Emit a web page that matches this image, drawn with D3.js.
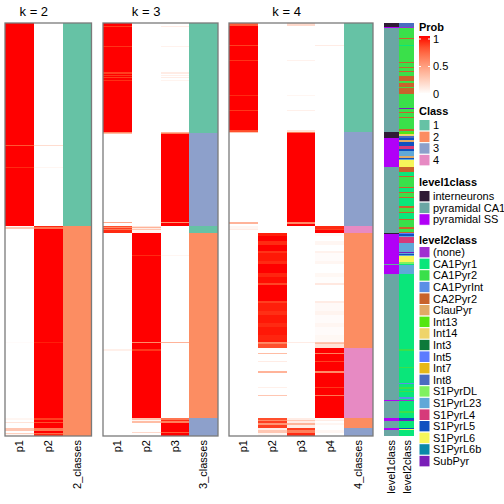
<!DOCTYPE html>
<html><head><meta charset="utf-8">
<script src="https://cdn.jsdelivr.net/npm/d3@7"></script>
<style>body{margin:0;background:#fff}text{font-family:"Liberation Sans",Arial,Helvetica,sans-serif;fill:#000}</style>
</head><body><svg id="c" width="504" height="504"></svg>
<script>
// ---------------- data ----------------
const N = 413; // number of samples (rows)
const classLevels = ["1","2","3","4"];
const classColors = ["#66C2A5","#FC8D62","#8DA0CB","#E78AC3"];
const probTicks = [0, 0.5, 1];
const level1Names = ["interneurons","pyramidal CA1","pyramidal SS"];
const level1Colors = ["#2F1B36","#6AA6A4","#B100F7"];
const level2Names = ["(none)","CA1Pyr1","CA1Pyr2","CA1PyrInt","CA2Pyr2","ClauPyr","Int13","Int14","Int3","Int5","Int7","Int8","S1PyrDL","S1PyrL23","S1PyrL4","S1PyrL5","S1PyrL6","S1PyrL6b","SubPyr"];
const level2Colors = ["#A02FD0","#0AE67A","#3AE04A","#5B8FE6","#C8632C","#E0AA66","#55E610","#EFD46A","#0C7A3A","#5C7BFF","#E6B81A","#4A6CC0","#80F060","#60A8D8","#D63A7A","#1050C0","#F6F65A","#0A88A8","#7A1EB8"];
const panelTitles = ["k = 2","k = 3","k = 4"];

// segments: [startRow, endRow, class, p1, p2, ...]
const k2Segments = [
 [0,122,1,1,0],[122,123,1,.82,.18],[123,144,1,1,0],[144,145,1,.95,.05],[145,203,1,1,0],
 [203,204,2,.05,.95],[204,206,2,.3,.7],[206,319,2,0,1],[319,320,2,.02,.97],[320,395,2,0,1],
 [395,397,2,.05,.9],[397,399,2,0,1],[399,400,2,.15,.85],[400,405,2,0,1],[405,408,2,.3,.7],
 [408,410,2,0,1],[410,411,2,.25,.75],[411,413,2,.05,.95]
];
const k3Segments = [
 [0,3,1,1,0,0],[3,4,1,.9,0,.1],[4,23,1,1,0,0],[23,24,1,.93,0,.07],[24,49,1,1,0,0],
 [49,51,1,.9,0,.1],[51,52,1,1,0,0],[52,53,1,.92,0,.08],[53,54,1,1,0,0],[54,55,1,.9,0,.1],
 [55,57,1,1,0,0],[57,58,1,.94,0,.06],[58,109,1,1,0,0],[109,110,1,.6,0,.4],[110,111,3,.35,0,.65],
 [111,199,3,0,0,1],[199,200,3,.45,0,.55],[200,203,3,0,0,1],
 [203,204,1,.85,.15,0],[204,205,1,.6,.4,0],[205,206,1,.9,.1,0],[206,207,1,.7,.3,0],[207,210,1,.95,.05,0],
 [210,232,2,0,1,0],[232,233,2,0,.95,.05],[233,319,2,0,1,0],[319,320,2,0,.6,.4],[320,326,2,0,1,0],
 [326,328,2,.08,.92,0],[328,395,2,0,1,0],
 [395,397,3,0,.3,.7],[397,398,3,0,.05,.95],[398,400,3,0,.35,.65],[400,409,3,0,0,1],[409,410,3,0,.2,.8],[410,413,3,0,0,1]
];
const k4Segments = [
 [0,3,1,.8,0,.2,0],[3,22,1,1,0,0,0],[22,23,1,.9,0,0,.1],[23,37,1,1,0,0,0],[37,38,1,.93,0,.07,0],
 [38,72,1,1,0,0,0],[72,73,1,.95,0,.05,0],[73,87,1,1,0,0,0],[87,88,1,.92,0,.08,0],[88,107,1,1,0,0,0],
 [107,109,1,.85,0,.15,0],[109,110,3,.3,0,.7,0],[110,199,3,0,0,1,0],[199,201,3,.4,0,.6,0],[201,203,3,0,0,1,0],
 [203,206,4,.05,0,0,.95],[206,207,4,.1,0,0,.9],[207,210,4,0,0,0,1],
 [210,213,2,0,.97,0,.03],[213,218,2,0,1,0,0],[218,222,2,0,.95,0,.05],[222,228,2,0,1,0,0],[228,230,2,0,.93,0,.07],
 [230,238,2,0,.98,0,.02],[238,241,2,0,.95,0,.05],[241,250,2,0,1,0,0],[250,254,2,0,.96,0,.04],[254,260,2,0,.99,0,.01],
 [260,262,2,0,.88,0,.12],[262,278,2,0,1,0,0],[278,280,2,0,.9,0,.1],[280,288,2,0,.97,0,.03],[288,292,2,0,.94,0,.06],
 [292,300,2,0,.98,0,.02],[300,304,2,0,.95,0,.05],[304,312,2,0,.98,0,.02],[312,317,2,0,.96,0,.04],[317,319,2,0,.97,0,.03],
 [319,320,2,0,.6,.1,.3],[320,321,2,0,.65,0,.35],[321,325,2,0,.85,0,.15],
 [325,330,4,0,0,0,1],[330,331,4,0,.35,0,.65],[331,338,4,0,0,0,1],[338,339,4,0,.1,0,.9],[339,348,4,0,0,0,1],
 [348,350,4,0,.4,0,.6],[350,364,4,0,0,0,1],[364,365,4,0,.08,0,.92],[365,372,4,0,0,0,1],[372,373,4,0,.3,0,.7],[373,395,4,0,0,0,1],
 [395,397,2,0,.85,.1,.05],[397,398,2,0,.6,.3,.1],[398,400,2,0,.9,.1,0],[400,402,2,0,.55,.4,.05],[402,405,2,0,.9,.1,0],
 [405,407,3,0,.1,.9,0],[407,410,3,0,.3,.65,.05],[410,413,3,0,.05,.95,0]
];
const level1Segments = [
 [0,4,"interneurons"],[4,5,"pyramidal SS"],[5,109,"pyramidal CA1"],[109,115,"interneurons"],[115,144,"pyramidal SS"],
 [144,210,"pyramidal CA1"],[210,211,"interneurons"],[211,241,"pyramidal SS"],[241,242,"pyramidal CA1"],[242,251,"pyramidal SS"],
 [251,377,"pyramidal CA1"],[377,378,"pyramidal SS"],[378,395,"pyramidal CA1"],[395,398,"pyramidal SS"],[398,405,"pyramidal CA1"],
 [405,407,"pyramidal SS"],[407,413,"pyramidal CA1"]
];
const level2Segments = [
 [0,4,"Int8"],[4,5,"(none)"],[5,15,"CA1Pyr2"],[15,16,"CA2Pyr2"],[16,22,"CA1Pyr2"],[22,23,"CA1Pyr1"],[23,39,"CA1Pyr2"],
 [39,40,"CA2Pyr2"],[40,44,"CA1Pyr2"],[44,45,"CA2Pyr2"],[45,48,"CA1Pyr2"],[48,49,"CA2Pyr2"],[49,53,"CA1Pyr2"],
 [53,58,"CA2Pyr2"],[58,60,"CA1Pyr2"],[60,64,"CA2Pyr2"],[64,65,"CA1Pyr2"],[65,71,"CA2Pyr2"],[71,85,"CA1Pyr2"],
 [85,86,"SubPyr"],[86,89,"CA1Pyr2"],[89,90,"CA2Pyr2"],[90,94,"CA1Pyr2"],[94,95,"CA2Pyr2"],[95,106,"CA1Pyr2"],
 [106,108,"CA2Pyr2"],[108,109,"CA1Pyr2"],
 [109,111,"Int13"],[111,113,"Int14"],[113,115,"Int8"],[115,117,"S1PyrL5"],[117,119,"ClauPyr"],[119,123,"S1PyrL5"],
 [123,126,"S1PyrL4"],[126,128,"S1PyrL5"],[128,133,"S1PyrL23"],[133,135,"ClauPyr"],[135,136,"S1PyrL5"],[136,137,"S1PyrL23"],
 [137,144,"S1PyrL6"],
 [144,149,"CA2Pyr2"],[149,153,"CA1Pyr1"],[153,154,"CA2Pyr2"],[154,164,"CA1Pyr2"],[164,165,"CA2Pyr2"],[165,169,"CA1Pyr1"],
 [169,170,"CA2Pyr2"],[170,174,"CA1Pyr2"],[174,175,"CA2Pyr2"],[175,183,"CA1Pyr1"],[183,185,"CA2Pyr2"],[185,189,"CA1Pyr2"],
 [189,190,"CA2Pyr2"],[190,196,"CA1Pyr1"],[196,197,"CA2Pyr2"],[197,204,"CA1Pyr2"],[204,206,"CA2Pyr2"],[206,209,"CA1Pyr2"],
 [209,210,"CA2Pyr2"],[210,211,"Int5"],
 [211,213,"S1PyrL5"],[213,214,"S1PyrL23"],[214,220,"S1PyrL4"],[220,229,"S1PyrL23"],[229,230,"SubPyr"],[230,231,"S1PyrL23"],
 [231,232,"S1PyrL5"],[232,233,"S1PyrL23"],[233,239,"S1PyrL6"],[239,241,"S1PyrDL"],[241,242,"CA1Pyr1"],[242,251,"S1PyrL23"],
 [251,326,"CA1Pyr1"],[326,328,"CA1Pyr2"],[328,344,"CA1Pyr1"],[344,345,"CA1Pyr2"],[345,360,"CA1Pyr1"],[360,361,"CA1PyrInt"],
 [361,364,"CA1Pyr1"],[364,366,"CA1Pyr2"],[366,368,"CA1Pyr1"],[368,369,"CA1Pyr2"],[369,374,"CA1Pyr1"],[374,376,"CA1PyrInt"],
 [376,377,"CA1Pyr1"],[377,378,"(none)"],[378,388,"CA1Pyr1"],[388,390,"CA1Pyr2"],[390,395,"CA1Pyr1"],[395,397,"S1PyrL5"],
 [397,398,"SubPyr"],[398,405,"CA1Pyr1"],[405,406,"S1PyrL5"],[406,407,"S1PyrL6"],[407,413,"CA1Pyr1"]
];

// ---------------- drawing ----------------
const svg = d3.select("#c");
const yTop = 23, yBot = 436;
const y = d3.scaleLinear().domain([0, N]).range([yTop, yBot]);
const probColor = d3.scaleLinear().domain([0, 1]).range(["#FFFFFF", "#FF0000"]).interpolate(d3.interpolateLab).clamp(true);
const classColor = d3.scaleOrdinal().domain(classLevels).range(classColors);
const l1Color = d3.scaleOrdinal().domain(level1Names).range(level1Colors);
const l2Color = d3.scaleOrdinal().domain(level2Names).range(level2Colors);

const panels = [
  {k:2, segs:k2Segments, x0:5, x1:91.5},
  {k:3, segs:k3Segments, x0:103, x1:218},
  {k:4, segs:k4Segments, x0:229, x1:373}
];

panels.forEach((p, pi) => {
  const cols = d3.range(1, p.k + 1).map(i => "p" + i).concat([p.k + "_classes"]);
  const x = d3.scaleBand().domain(cols).range([p.x0, p.x1]);
  const g = svg.append("g");
  p.segs.forEach(s => {
    for (let i = 0; i < p.k; i++) {
      g.append("rect").attr("x", x(cols[i])).attr("width", x.bandwidth())
        .attr("y", y(s[0])).attr("height", y(s[1]) - y(s[0]))
        .attr("fill", probColor(s[3 + i])).attr("shape-rendering", "crispEdges");
    }
    g.append("rect").attr("x", x(cols[p.k])).attr("width", x.bandwidth())
      .attr("y", y(s[0])).attr("height", y(s[1]) - y(s[0]))
      .attr("fill", classColor(String(s[2]))).attr("shape-rendering", "crispEdges");
  });
  g.append("rect").attr("x", p.x0).attr("y", yTop).attr("width", p.x1 - p.x0).attr("height", yBot - yTop)
    .attr("fill", "none").attr("stroke", "#7a7a7a").attr("stroke-width", 1.3);
  // title centered over probability columns
  const tc = (x(cols[0]) + x(cols[p.k - 1]) + x.bandwidth()) / 2;
  svg.append("text").attr("x", tc).attr("y", 15.5).attr("text-anchor", "middle")
    .style("font-size", "13px").text(panelTitles[pi]);
  // column labels
  cols.forEach(c => {
    svg.append("text").attr("transform", `translate(${x(c) + x.bandwidth() / 2},440) rotate(-90)`)
      .attr("text-anchor", "end").attr("dy", "0.35em").style("font-size", "11px").text(c);
  });
});

// annotation columns
const annX = d3.scaleBand().domain(["level1class", "level2class"]).range([384, 414]).paddingInner(0.04);
level1Segments.forEach(s => {
  svg.append("rect").attr("x", annX("level1class")).attr("width", annX.bandwidth())
    .attr("y", y(s[0])).attr("height", y(s[1]) - y(s[0])).attr("fill", l1Color(s[2])).attr("shape-rendering", "crispEdges");
});
level2Segments.forEach(s => {
  svg.append("rect").attr("x", annX("level2class")).attr("width", annX.bandwidth())
    .attr("y", y(s[0])).attr("height", y(s[1]) - y(s[0])).attr("fill", l2Color(s[2])).attr("shape-rendering", "crispEdges");
});
["level1class", "level2class"].forEach(c => {
  svg.append("text").attr("transform", `translate(${annX(c) + annX.bandwidth() / 2},440) rotate(-90)`)
    .attr("text-anchor", "end").attr("dy", "0.35em").style("font-size", "11px").text(c);
});

// ---------------- legends ----------------
const lx = 419, lw = 11, lab = 433, step = 11.6;
// Prob
svg.append("text").attr("x", lx).attr("y", 30.5).style("font-size", "11px").style("font-weight", "bold").text("Prob");
const pScale = d3.scaleLinear().domain([0, 1]).range([94, 39]);
const defs = svg.append("defs");
const grad = defs.append("linearGradient").attr("id", "pg").attr("x1", 0).attr("x2", 0).attr("y1", 0).attr("y2", 1);
const barTop = 36, barBot = 93;
d3.range(0, 11).forEach(i => {
  const yy = barTop + (barBot - barTop) * i / 10;
  grad.append("stop").attr("offset", (i * 10) + "%").attr("stop-color", probColor(pScale.invert(yy)));
});
svg.append("rect").attr("x", lx).attr("y", barTop).attr("width", lw).attr("height", barBot - barTop).attr("fill", "url(#pg)");
probTicks.forEach(t => {
  const yy = pScale(t);
  if (yy < barBot) {
    svg.append("line").attr("x1", lx).attr("x2", lx + 2).attr("y1", yy).attr("y2", yy).attr("stroke", "#fff");
    svg.append("line").attr("x1", lx + lw - 2).attr("x2", lx + lw).attr("y1", yy).attr("y2", yy).attr("stroke", "#fff");
  }
  svg.append("text").attr("x", lab).attr("y", yy).attr("dy", "0.35em").style("font-size", "11px").text(d3.format("~g")(t));
});

function discreteLegend(title, titleY, boxTop, names, colorFn) {
  svg.append("text").attr("x", lx).attr("y", titleY).style("font-size", "11px").style("font-weight", "bold").text(title);
  names.forEach((n, i) => {
    svg.append("rect").attr("x", lx).attr("y", boxTop + i * step).attr("width", lw).attr("height", step)
      .attr("fill", colorFn(n)).attr("stroke", "#fff").attr("stroke-width", 1);
    svg.append("text").attr("x", lab).attr("y", boxTop + i * step + step / 2).attr("dy", "0.35em")
      .style("font-size", "11px").text(n);
  });
}
discreteLegend("Class", 115, 119.5, classLevels, classColor);
discreteLegend("level1class", 186, 190.5, level1Names, l1Color);
discreteLegend("level2class", 243.5, 246.5, level2Names, l2Color);
</script></body></html>
